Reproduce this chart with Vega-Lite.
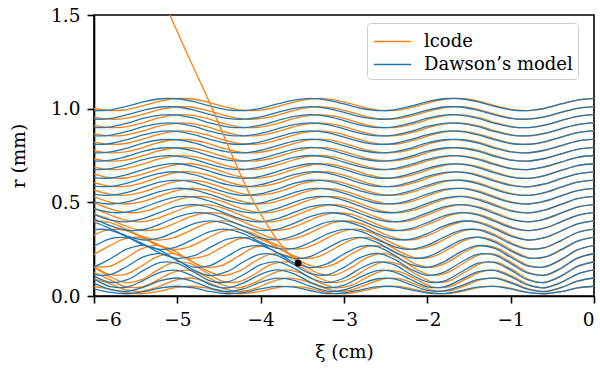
{
  "$schema": "https://vega.github.io/schema/vega-lite/v6.json",
  "width": 500,
  "height": 281,
  "autosize": {"type": "none"},
  "padding": {"left": 94, "top": 15, "right": 6, "bottom": 79},
  "config": {
    "font": "DejaVu Serif",
    "view": {"stroke": "black", "strokeWidth": 1.6},
    "axis": {
      "grid": false,
      "domainColor": "black", "domainWidth": 1.6,
      "tickColor": "black", "tickWidth": 1.6, "tickSize": 7,
      "labelFont": "DejaVu Serif", "titleFont": "DejaVu Serif",
      "labelFontSize": 18.5, "labelColor": "black", "labelPadding": 7,
      "titleFontSize": 18.5, "titleFontWeight": "normal", "titleColor": "black"
    },
    "legend": {
      "orient": "none", "legendX": 273, "legendY": 8, "padding": 5,
      "strokeColor": "#cccccc", "cornerRadius": 4, "fillColor": "rgba(255,255,255,0.8)",
      "symbolType": "M-1.5,0H1.5", "symbolSize": 625, "symbolStrokeWidth": 1.5, "symbolOffset": 7,
      "labelFont": "DejaVu Serif", "labelFontSize": 18, "labelColor": "black", "labelOffset": 18, "rowPadding": 0
    }
  },
  "datasets": {
    "traj": [
      {"x":0,"xl":0,"L0":1.055,"L1":1.011,"L2":0.968,"L3":0.924,"L4":0.881,"L5":0.837,"L6":0.793,"L7":0.750,"L8":0.706,"L9":0.663,"L10":0.619,"L11":0.575,"L12":0.532,"L13":0.488,"L14":0.445,"L15":0.401,"L16":0.357,"L17":0.314,"L18":0.270,"L19":0.227,"L20":0.183,"L21":0.139,"L22":0.096,"L23":0.052},
      {"x":-0.2,"xl":-0.194,"L0":1.046,"L1":1.002,"L2":0.959,"L3":0.915,"L4":0.872,"L5":0.827,"L6":0.783,"L7":0.740,"L8":0.696,"L9":0.652,"L10":0.608,"L11":0.563,"L12":0.520,"L13":0.475,"L14":0.431,"L15":0.385,"L16":0.339,"L17":0.293,"L18":0.246,"L19":0.202,"L20":0.158,"L21":0.117,"L22":0.079,"L23":0.043},
      {"x":-0.4,"xl":-0.388,"L0":1.025,"L1":0.980,"L2":0.936,"L3":0.892,"L4":0.848,"L5":0.803,"L6":0.759,"L7":0.715,"L8":0.670,"L9":0.626,"L10":0.581,"L11":0.535,"L12":0.489,"L13":0.442,"L14":0.396,"L15":0.347,"L16":0.296,"L17":0.246,"L18":0.194,"L19":0.148,"L20":0.106,"L21":0.072,"L22":0.045,"L23":0.023},
      {"x":-0.6,"xl":-0.582,"L0":1.002,"L1":0.956,"L2":0.912,"L3":0.868,"L4":0.823,"L5":0.778,"L6":0.734,"L7":0.689,"L8":0.643,"L9":0.598,"L10":0.552,"L11":0.506,"L12":0.458,"L13":0.410,"L14":0.362,"L15":0.311,"L16":0.258,"L17":0.207,"L18":0.156,"L19":0.111,"L20":0.072,"L21":0.044,"L22":0.024,"L23":0.012},
      {"x":-0.8,"xl":-0.776,"L0":0.990,"L1":0.944,"L2":0.899,"L3":0.855,"L4":0.810,"L5":0.764,"L6":0.720,"L7":0.675,"L8":0.628,"L9":0.583,"L10":0.537,"L11":0.491,"L12":0.444,"L13":0.396,"L14":0.349,"L15":0.299,"L16":0.251,"L17":0.204,"L18":0.161,"L19":0.123,"L20":0.087,"L21":0.059,"L22":0.037,"L23":0.019},
      {"x":-1.0,"xl":-0.970,"L0":0.994,"L1":0.948,"L2":0.903,"L3":0.859,"L4":0.814,"L5":0.769,"L6":0.725,"L7":0.680,"L8":0.635,"L9":0.590,"L10":0.545,"L11":0.500,"L12":0.454,"L13":0.409,"L14":0.365,"L15":0.320,"L16":0.279,"L17":0.241,"L18":0.207,"L19":0.173,"L20":0.138,"L21":0.103,"L22":0.070,"L23":0.038},
      {"x":-1.2,"xl":-1.164,"L0":1.013,"L1":0.968,"L2":0.923,"L3":0.879,"L4":0.835,"L5":0.790,"L6":0.746,"L7":0.702,"L8":0.658,"L9":0.614,"L10":0.570,"L11":0.526,"L12":0.484,"L13":0.441,"L14":0.400,"L15":0.360,"L16":0.323,"L17":0.289,"L18":0.255,"L19":0.219,"L20":0.179,"L21":0.137,"L22":0.095,"L23":0.051},
      {"x":-1.4,"xl":-1.358,"L0":1.037,"L1":0.992,"L2":0.949,"L3":0.905,"L4":0.861,"L5":0.817,"L6":0.773,"L7":0.729,"L8":0.687,"L9":0.643,"L10":0.600,"L11":0.557,"L12":0.515,"L13":0.473,"L14":0.433,"L15":0.393,"L16":0.354,"L17":0.314,"L18":0.269,"L19":0.222,"L20":0.174,"L21":0.129,"L22":0.087,"L23":0.047},
      {"x":-1.6,"xl":-1.552,"L0":1.053,"L1":1.009,"L2":0.966,"L3":0.922,"L4":0.879,"L5":0.834,"L6":0.790,"L7":0.747,"L8":0.704,"L9":0.661,"L10":0.618,"L11":0.574,"L12":0.532,"L13":0.488,"L14":0.445,"L15":0.399,"L16":0.350,"L17":0.297,"L18":0.236,"L19":0.179,"L20":0.127,"L21":0.087,"L22":0.054,"L23":0.028},
      {"x":-1.8,"xl":-1.746,"L0":1.053,"L1":1.009,"L2":0.966,"L3":0.922,"L4":0.879,"L5":0.834,"L6":0.790,"L7":0.747,"L8":0.702,"L9":0.659,"L10":0.614,"L11":0.569,"L12":0.523,"L13":0.476,"L14":0.428,"L15":0.374,"L16":0.314,"L17":0.251,"L18":0.183,"L19":0.127,"L20":0.080,"L21":0.049,"L22":0.027,"L23":0.013},
      {"x":-2.0,"xl":-1.940,"L0":1.037,"L1":0.992,"L2":0.949,"L3":0.905,"L4":0.861,"L5":0.817,"L6":0.773,"L7":0.729,"L8":0.681,"L9":0.638,"L10":0.591,"L11":0.544,"L12":0.495,"L13":0.444,"L14":0.392,"L15":0.333,"L16":0.271,"L17":0.209,"L18":0.153,"L19":0.110,"L20":0.075,"L21":0.049,"L22":0.030,"L23":0.016},
      {"x":-2.2,"xl":-2.134,"L0":1.013,"L1":0.968,"L2":0.923,"L3":0.879,"L4":0.835,"L5":0.790,"L6":0.746,"L7":0.702,"L8":0.653,"L9":0.608,"L10":0.561,"L11":0.513,"L12":0.463,"L13":0.411,"L14":0.360,"L15":0.303,"L16":0.249,"L17":0.203,"L18":0.169,"L19":0.143,"L20":0.116,"L21":0.088,"L22":0.061,"L23":0.033},
      {"x":-2.4,"xl":-2.328,"L0":0.994,"L1":0.948,"L2":0.903,"L3":0.859,"L4":0.814,"L5":0.769,"L6":0.725,"L7":0.680,"L8":0.632,"L9":0.587,"L10":0.540,"L11":0.493,"L12":0.445,"L13":0.396,"L14":0.349,"L15":0.303,"L16":0.264,"L17":0.236,"L18":0.219,"L19":0.197,"L20":0.167,"L21":0.129,"L22":0.091,"L23":0.050},
      {"x":-2.6,"xl":-2.522,"L0":0.990,"L1":0.944,"L2":0.899,"L3":0.855,"L4":0.810,"L5":0.764,"L6":0.720,"L7":0.675,"L8":0.630,"L9":0.585,"L10":0.540,"L11":0.495,"L12":0.451,"L13":0.408,"L14":0.368,"L15":0.332,"L16":0.305,"L17":0.285,"L18":0.263,"L19":0.227,"L20":0.182,"L21":0.136,"L22":0.092,"L23":0.050},
      {"x":-2.8,"xl":-2.716,"L0":1.002,"L1":0.956,"L2":0.912,"L3":0.868,"L4":0.823,"L5":0.778,"L6":0.734,"L7":0.689,"L8":0.648,"L9":0.603,"L10":0.560,"L11":0.518,"L12":0.478,"L13":0.439,"L14":0.404,"L15":0.373,"L16":0.345,"L17":0.313,"L18":0.265,"L19":0.206,"L20":0.148,"L21":0.102,"L22":0.064,"L23":0.033},
      {"x":-3.0,"xl":-2.910,"L0":1.025,"L1":0.980,"L2":0.936,"L3":0.892,"L4":0.848,"L5":0.803,"L6":0.759,"L7":0.715,"L8":0.676,"L9":0.632,"L10":0.590,"L11":0.549,"L12":0.510,"L13":0.472,"L14":0.436,"L15":0.399,"L16":0.356,"L17":0.300,"L18":0.224,"L19":0.153,"L20":0.096,"L21":0.058,"L22":0.032,"L23":0.016},
      {"x":-3.2,"xl":-3.104,"L0":1.046,"L1":1.002,"L2":0.959,"L3":0.915,"L4":0.872,"L5":0.827,"L6":0.783,"L7":0.740,"L8":0.699,"L9":0.656,"L10":0.613,"L11":0.571,"L12":0.530,"L13":0.488,"L14":0.444,"L15":0.394,"L16":0.331,"L17":0.256,"L18":0.173,"L19":0.113,"L20":0.071,"L21":0.044,"L22":0.026,"L23":0.013},
      {"x":-3.4,"xl":-3.298,"L0":1.055,"L1":1.011,"L2":0.968,"L3":0.924,"L4":0.881,"L5":0.837,"L6":0.793,"L7":0.750,"L8":0.706,"L9":0.663,"L10":0.618,"L11":0.573,"L12":0.527,"L13":0.477,"L14":0.425,"L15":0.361,"L16":0.287,"L17":0.212,"L18":0.152,"L19":0.119,"L20":0.096,"L21":0.073,"L22":0.051,"L23":0.028},
      {"x":-3.6,"xl":-3.492,"L0":1.046,"L1":1.002,"L2":0.959,"L3":0.915,"L4":0.872,"L5":0.827,"L6":0.783,"L7":0.740,"L8":0.691,"L9":0.648,"L10":0.601,"L11":0.552,"L12":0.501,"L13":0.446,"L14":0.388,"L15":0.321,"L16":0.254,"L17":0.201,"L18":0.178,"L19":0.167,"L20":0.148,"L21":0.118,"L22":0.084,"L23":0.047},
      {"x":-3.8,"xl":-3.686,"L0":1.025,"L1":0.980,"L2":0.936,"L3":0.892,"L4":0.848,"L5":0.803,"L6":0.759,"L7":0.715,"L8":0.664,"L9":0.620,"L10":0.571,"L11":0.521,"L12":0.468,"L13":0.413,"L14":0.357,"L15":0.300,"L16":0.254,"L17":0.231,"L18":0.231,"L19":0.216,"L20":0.182,"L21":0.139,"L22":0.095,"L23":0.051},
      {"x":-4.0,"xl":-3.880,"L0":1.002,"L1":0.956,"L2":0.912,"L3":0.868,"L4":0.823,"L5":0.778,"L6":0.734,"L7":0.689,"L8":0.638,"L9":0.594,"L10":0.546,"L11":0.497,"L12":0.446,"L13":0.396,"L14":0.350,"L15":0.310,"L16":0.287,"L17":0.280,"L18":0.267,"L19":0.224,"L20":0.167,"L21":0.116,"L22":0.074,"L23":0.038},
      {"x":-4.2,"xl":-4.074,"L0":0.990,"L1":0.944,"L2":0.899,"L3":0.855,"L4":0.810,"L5":0.764,"L6":0.720,"L7":0.675,"L8":0.628,"L9":0.583,"L10":0.537,"L11":0.492,"L12":0.448,"L13":0.406,"L14":0.371,"L15":0.346,"L16":0.331,"L17":0.312,"L18":0.259,"L19":0.184,"L20":0.116,"L21":0.071,"L22":0.039,"L23":0.019},
      {"x":-4.4,"xl":-4.268,"L0":0.994,"L1":0.948,"L2":0.903,"L3":0.859,"L4":0.814,"L5":0.769,"L6":0.725,"L7":0.680,"L8":0.638,"L9":0.594,"L10":0.551,"L11":0.510,"L12":0.472,"L13":0.437,"L14":0.407,"L15":0.384,"L16":0.356,"L17":0.303,"L18":0.212,"L19":0.131,"L20":0.075,"L21":0.043,"L22":0.024,"L23":0.012},
      {"x":-4.6,"xl":-4.462,"L0":1.013,"L1":0.968,"L2":0.923,"L3":0.879,"L4":0.835,"L5":0.790,"L6":0.746,"L7":0.702,"L8":0.664,"L9":0.620,"L10":0.579,"L11":0.541,"L12":0.505,"L13":0.471,"L14":0.438,"L15":0.401,"L16":0.345,"L17":0.261,"L18":0.164,"L19":0.109,"L20":0.080,"L21":0.060,"L22":0.042,"L23":0.023},
      {"x":-4.8,"xl":-4.656,"L0":1.037,"L1":0.992,"L2":0.949,"L3":0.905,"L4":0.861,"L5":0.817,"L6":0.773,"L7":0.729,"L8":0.691,"L9":0.648,"L10":0.607,"L11":0.567,"L12":0.528,"L13":0.488,"L14":0.444,"L15":0.386,"L16":0.305,"L17":0.215,"L18":0.154,"L19":0.138,"L20":0.127,"L21":0.104,"L22":0.076,"L23":0.043},
      {"x":-5.0,"xl":-4.850,"L0":1.053,"L1":1.009,"L2":0.966,"L3":0.922,"L4":0.879,"L5":0.834,"L6":0.790,"L7":0.747,"L8":0.706,"L9":0.663,"L10":0.619,"L11":0.575,"L12":0.529,"L13":0.478,"L14":0.422,"L15":0.348,"L16":0.264,"L17":0.201,"L18":0.189,"L19":0.192,"L20":0.174,"L21":0.137,"L22":0.096,"L23":0.052},
      {"x":-5.2,"xl":-5.044,"L0":1.053,"L1":1.009,"L2":0.966,"L3":0.922,"L4":0.879,"L5":0.834,"L6":0.790,"L7":0.747,"L8":0.699,"L9":0.656,"L10":0.609,"L11":0.559,"L12":0.507,"L13":0.448,"L14":0.385,"L15":0.311,"L16":0.249,"L17":0.227,"L18":0.242,"L19":0.226,"L20":0.179,"L21":0.128,"L22":0.082,"L23":0.043},
      {"x":-5.4,"xl":-5.238,"L0":1.037,"L1":0.992,"L2":0.949,"L3":0.905,"L4":0.861,"L5":0.817,"L6":0.773,"L7":0.729,"L8":0.676,"L9":0.632,"L10":0.582,"L11":0.530,"L12":0.474,"L13":0.414,"L14":0.355,"L15":0.299,"L16":0.271,"L17":0.276,"L18":0.270,"L19":0.210,"L20":0.138,"L21":0.085,"L22":0.048,"L23":0.023},
      {"x":-5.6,"xl":-5.432,"L0":1.013,"L1":0.968,"L2":0.923,"L3":0.879,"L4":0.835,"L5":0.790,"L6":0.746,"L7":0.702,"L8":0.648,"L9":0.603,"L10":0.553,"L11":0.502,"L12":0.449,"L13":0.396,"L14":0.351,"L15":0.320,"L16":0.314,"L17":0.310,"L18":0.251,"L19":0.159,"L20":0.087,"L21":0.048,"L22":0.025,"L23":0.012},
      {"x":-5.8,"xl":-5.626,"L0":0.994,"L1":0.948,"L2":0.903,"L3":0.859,"L4":0.814,"L5":0.769,"L6":0.725,"L7":0.680,"L8":0.630,"L9":0.585,"L10":0.538,"L11":0.491,"L12":0.446,"L13":0.405,"L14":0.374,"L15":0.359,"L16":0.350,"L17":0.306,"L18":0.200,"L19":0.115,"L20":0.072,"L21":0.050,"L22":0.034,"L23":0.019},
      {"x":-6.0,"xl":-5.820,"L0":0.990,"L1":0.944,"L2":0.899,"L3":0.855,"L4":0.810,"L5":0.764,"L6":0.720,"L7":0.675,"L8":0.632,"L9":0.587,"L10":0.544,"L11":0.503,"L12":0.467,"L13":0.435,"L14":0.411,"L15":0.393,"L16":0.354,"L17":0.266,"L18":0.158,"L19":0.116,"L20":0.106,"L21":0.089,"L22":0.067,"L23":0.038},
      {"x":-6.2,"xl":-6.014,"L0":1.002,"L1":0.956,"L2":0.912,"L3":0.868,"L4":0.823,"L5":0.778,"L6":0.734,"L7":0.689,"L8":0.653,"L9":0.608,"L10":0.568,"L11":0.533,"L12":0.500,"L13":0.469,"L14":0.440,"L15":0.399,"L16":0.323,"L17":0.219,"L18":0.159,"L19":0.162,"L20":0.158,"L21":0.130,"L22":0.093,"L23":0.051}
    ],
    "escape": [
      {"x": -5.14, "r": 1.55}, {"x": -4.9, "r": 1.31}, {"x": -4.6, "r": 1.02}, {"x": -4.37, "r": 0.78},
      {"x": -4.15, "r": 0.56}, {"x": -3.95, "r": 0.40}, {"x": -3.75, "r": 0.27}, {"x": -3.55, "r": 0.176}
    ],
    "dot": [{"x": -3.55, "r": 0.176}]
  },
  "layer": [
    {
      "data": {"name": "traj"},
      "transform": [{"fold": ["L0","L1","L2","L3","L4","L5","L6","L7","L8","L9","L10","L11","L12","L13","L14","L15","L16","L17","L18","L19","L20","L21","L22","L23"], "as": ["line", "r"]}],
      "mark": {"type": "line", "interpolate": "catmull-rom", "strokeWidth": 1.3, "clip": true},
      "encoding": {
        "x": {"field": "xl", "type": "quantitative", "scale": {"domain": [-6, 0], "nice": false},
              "axis": {"values": [-6, -5, -4, -3, -2, -1, 0], "format": "d", "title": "ξ (cm)", "titlePadding": 14}},
        "y": {"field": "r", "type": "quantitative", "scale": {"domain": [0, 1.5], "nice": false},
              "axis": {"values": [0, 0.5, 1, 1.5], "format": ".1f", "title": "r (mm)", "titlePadding": 22}},
        "detail": {"field": "line"},
        "order": {"field": "xl", "type": "quantitative"},
        "color": {"datum": "lcode", "type": "nominal",
                  "scale": {"domain": ["lcode", "Dawson’s model"], "range": ["#ff7f0e", "#1f77b4"]},
                  "legend": {"title": null}}
      }
    },
    {
      "data": {"name": "traj"},
      "transform": [{"fold": ["L0","L1","L2","L3","L4","L5","L6","L7","L8","L9","L10","L11","L12","L13","L14","L15","L16","L17","L18","L19","L20","L21","L22","L23"], "as": ["line", "r"]}],
      "mark": {"type": "line", "interpolate": "catmull-rom", "strokeWidth": 1.3, "clip": true},
      "encoding": {
        "x": {"field": "x", "type": "quantitative"},
        "y": {"field": "r", "type": "quantitative"},
        "detail": {"field": "line"},
        "order": {"field": "x", "type": "quantitative"},
        "color": {"datum": "Dawson’s model", "type": "nominal"}
      }
    },
    {
      "data": {"name": "escape"},
      "mark": {"type": "line", "interpolate": "monotone", "strokeWidth": 1.3, "clip": true, "color": "#ff7f0e"},
      "encoding": {
        "x": {"field": "x", "type": "quantitative"},
        "y": {"field": "r", "type": "quantitative"}
      }
    },
    {
      "data": {"name": "dot"},
      "mark": {"type": "circle", "size": 45, "color": "black", "opacity": 1},
      "encoding": {
        "x": {"field": "x", "type": "quantitative"},
        "y": {"field": "r", "type": "quantitative"}
      }
    }
  ]
}
